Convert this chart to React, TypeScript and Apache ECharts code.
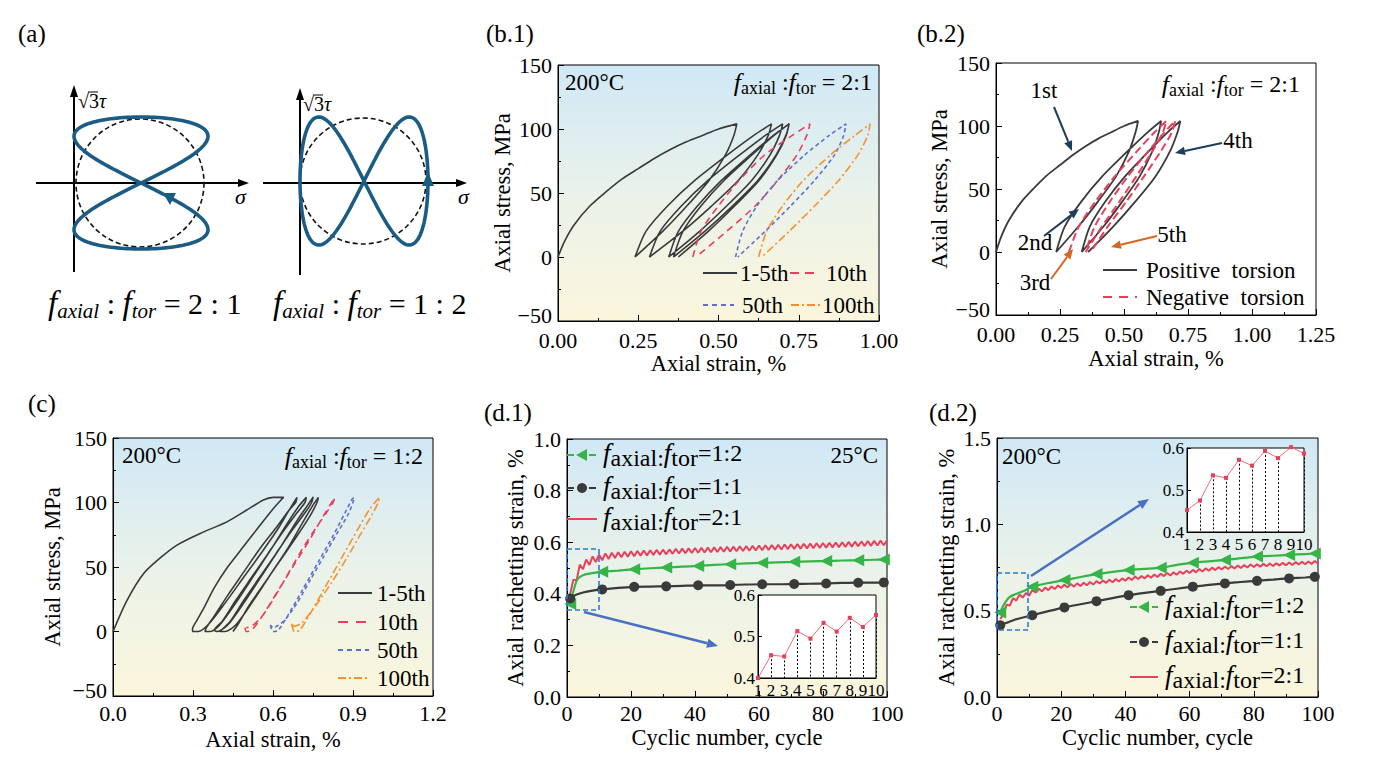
import React, { useEffect, useRef } from "react";
import * as echarts from "echarts";

const SERIF = "'Liberation Serif','Times New Roman',serif";

// ---------------- (b.1) 200°C, f_axial:f_tor = 2:1 ----------------
const b1Cycles1to5: number[][] = [
  [0, 0], [0.02, 12], [0.05, 25], [0.1, 40], [0.15, 51], [0.2, 61], [0.25, 69], [0.3, 77], [0.35, 84], [0.4, 90], [0.45, 95], [0.5, 100], [0.557, 104],
  [0.548, 95], [0.522, 80], [0.471, 60], [0.402, 40], [0.326, 20], [0.24, 0],
  [0.274, 20], [0.342, 40], [0.427, 60], [0.529, 80], [0.61, 95], [0.665, 104],
  [0.655, 95], [0.623, 80], [0.562, 60], [0.479, 40], [0.388, 20], [0.285, 0],
  [0.318, 20], [0.385, 40], [0.468, 60], [0.567, 80], [0.646, 95], [0.7, 104],
  [0.69, 95], [0.661, 80], [0.604, 60], [0.526, 40], [0.441, 20], [0.345, 0],
  [0.375, 20], [0.435, 40], [0.51, 60], [0.6, 80], [0.671, 95], [0.72, 104],
  [0.71, 95], [0.68, 80], [0.623, 60], [0.544, 40], [0.457, 20], [0.36, 0],
  [0.389, 20], [0.446, 40], [0.518, 60], [0.605, 80], [0.673, 95], [0.72, 104],
  [0.711, 95], [0.682, 80], [0.627, 60], [0.551, 40], [0.468, 20], [0.375, 0],
];
const b1Cycle10: number[][] = [
  [0.42, 0], [0.445, 20], [0.5, 40], [0.565, 60], [0.645, 80], [0.73, 95], [0.785, 104],
  [0.775, 95], [0.745, 80], [0.685, 60], [0.615, 40], [0.525, 20], [0.43, 0],
];
const b1Cycle50: number[][] = [
  [0.553, 0], [0.575, 20], [0.62, 40], [0.685, 60], [0.77, 80], [0.845, 95], [0.897, 104],
  [0.89, 95], [0.862, 80], [0.8, 60], [0.725, 40], [0.645, 20], [0.56, 0],
];
const b1Cycle100: number[][] = [
  [0.625, 0], [0.65, 20], [0.7, 40], [0.765, 60], [0.85, 80], [0.925, 95], [0.972, 104],
  [0.965, 95], [0.935, 80], [0.875, 60], [0.8, 40], [0.72, 20], [0.635, 0],
];

// ---------------- (b.2) positive / negative torsion ----------------
const b2Positive: number[][] = [
  [0, 0], [0.02, 12], [0.05, 25], [0.1, 40], [0.15, 51], [0.2, 61], [0.25, 69], [0.3, 77], [0.35, 84], [0.4, 90], [0.45, 95], [0.5, 100], [0.555, 104],
  [0.545, 95], [0.52, 80], [0.469, 60], [0.398, 40], [0.321, 20], [0.235, 0],
  [0.268, 20], [0.333, 40], [0.415, 60], [0.514, 80], [0.592, 95], [0.645, 104],
  [0.636, 95], [0.611, 80], [0.561, 60], [0.493, 40], [0.419, 20], [0.335, 0],
  [0.366, 20], [0.427, 40], [0.504, 60], [0.597, 80], [0.67, 95], [0.72, 104],
  [0.709, 95], [0.68, 80], [0.623, 60], [0.544, 40], [0.457, 20], [0.36, 0],
];
const b2Negative: number[][] = [
  [0.285, 0], [0.323, 20], [0.388, 40], [0.464, 60], [0.551, 80], [0.619, 95], [0.665, 104],
  [0.652, 95], [0.611, 80], [0.548, 60], [0.482, 40], [0.413, 20], [0.35, 0],
  [0.385, 20], [0.445, 40], [0.515, 60], [0.595, 80], [0.658, 95], [0.7, 104],
  [0.687, 95], [0.644, 80], [0.578, 60], [0.509, 40], [0.436, 20], [0.37, 0],
];

// ---------------- (c) 200°C, f_axial:f_tor = 1:2 ----------------
const cCycles1to5: number[][] = [
  [0, 0], [0.052, 24], [0.115, 45], [0.177, 57], [0.24, 67], [0.327, 76], [0.427, 85], [0.5, 94], [0.564, 102], [0.6, 104], [0.64, 104],
  [0.63, 102], [0.6, 95], [0.55, 82], [0.49, 66], [0.43, 50], [0.38, 34], [0.34, 18], [0.31, 7], [0.298, 2], [0.3, 0], [0.32, 0],
  [0.36, 6], [0.42, 22], [0.49, 42], [0.56, 62], [0.62, 80], [0.66, 94], [0.69, 104],
  [0.685, 100], [0.66, 94], [0.61, 80], [0.55, 64], [0.49, 46], [0.43, 28], [0.38, 12], [0.35, 3], [0.345, 0], [0.365, 0],
  [0.4, 5], [0.46, 22], [0.53, 44], [0.6, 66], [0.66, 86], [0.7, 98], [0.725, 104],
  [0.72, 100], [0.69, 92], [0.64, 78], [0.58, 60], [0.52, 42], [0.46, 24], [0.41, 8], [0.38, 1], [0.39, 0],
  [0.43, 5], [0.49, 22], [0.56, 44], [0.63, 66], [0.69, 86], [0.73, 98], [0.75, 104],
  [0.745, 100], [0.72, 92], [0.67, 78], [0.61, 60], [0.55, 42], [0.49, 24], [0.44, 8], [0.4, 0], [0.42, 0],
  [0.46, 5], [0.52, 22], [0.59, 44], [0.66, 66], [0.71, 84], [0.75, 98], [0.77, 104],
  [0.765, 100], [0.74, 90], [0.69, 74], [0.63, 56], [0.57, 38], [0.51, 20], [0.47, 6], [0.45, 0],
];
const cCycle10: number[][] = [
  [0.495, 3], [0.5, 0], [0.52, 1], [0.56, 12], [0.62, 32], [0.68, 52], [0.74, 72], [0.79, 90], [0.82, 100], [0.832, 104],
  [0.825, 100], [0.8, 92], [0.76, 80], [0.71, 64], [0.66, 46], [0.61, 28], [0.56, 12], [0.52, 4], [0.5, 3],
];
const cCycle50: number[][] = [
  [0.59, 5], [0.6, 0], [0.62, 1], [0.66, 14], [0.71, 32], [0.77, 54], [0.83, 76], [0.87, 92], [0.895, 102], [0.903, 104],
  [0.9, 100], [0.88, 90], [0.84, 76], [0.79, 58], [0.74, 40], [0.69, 22], [0.64, 8], [0.6, 3], [0.59, 5],
];
const cCycle100: number[][] = [
  [0.67, 6], [0.68, 0], [0.7, 1], [0.74, 14], [0.8, 36], [0.86, 58], [0.92, 80], [0.96, 94], [0.99, 102], [1.0, 104],
  [0.995, 100], [0.97, 90], [0.93, 76], [0.88, 58], [0.82, 38], [0.76, 20], [0.71, 7], [0.68, 4], [0.67, 6],
];

// ---------------- (d.1) 25°C ratchetting strain ----------------
const d1Ratio12: number[][] = [
  [1, 0.36], [2, 0.41], [3, 0.45], [4, 0.465], [5, 0.472], [7, 0.478], [9, 0.482], [11, 0.485], [16, 0.49], [21, 0.495],
  [26, 0.499], [31, 0.502], [36, 0.505], [41, 0.508], [46, 0.512], [51, 0.515], [56, 0.518], [61, 0.52], [66, 0.522],
  [71, 0.524], [76, 0.526], [81, 0.527], [86, 0.529], [91, 0.53], [96, 0.532], [99, 0.533], [100, 0.534],
];
const d1Ratio11: number[][] = [
  [1, 0.382], [2, 0.39], [3, 0.397], [5, 0.405], [8, 0.412], [11, 0.417], [16, 0.423], [21, 0.427], [26, 0.428],
  [31, 0.429], [36, 0.431], [41, 0.433], [46, 0.433], [51, 0.434], [56, 0.436], [61, 0.437], [66, 0.437], [71, 0.438],
  [76, 0.439], [81, 0.44], [86, 0.442], [91, 0.443], [96, 0.443], [99, 0.444], [100, 0.444],
];
const d1Ratio21: number[] = [
  0.400, 0.455, 0.452, 0.513, 0.495, 0.533, 0.512, 0.545, 0.523, 0.552,
  0.530, 0.556, 0.535, 0.559, 0.539, 0.561, 0.542, 0.563, 0.544, 0.565,
  0.546, 0.566, 0.548, 0.568, 0.549, 0.569, 0.551, 0.570, 0.552, 0.571,
  0.553, 0.572, 0.555, 0.574, 0.556, 0.575, 0.557, 0.576, 0.558, 0.577,
  0.559, 0.578, 0.560, 0.579, 0.561, 0.580, 0.562, 0.581, 0.563, 0.582,
  0.564, 0.583, 0.565, 0.584, 0.566, 0.585, 0.567, 0.586, 0.568, 0.587,
  0.569, 0.588, 0.570, 0.589, 0.571, 0.590, 0.572, 0.591, 0.573, 0.592,
  0.574, 0.593, 0.575, 0.594, 0.576, 0.595, 0.577, 0.596, 0.578, 0.597,
  0.579, 0.598, 0.580, 0.599, 0.581, 0.600, 0.582, 0.601, 0.583, 0.602,
  0.584, 0.603, 0.585, 0.604, 0.586, 0.605, 0.587, 0.606, 0.588, 0.607,
];

// ---------------- (d.2) 200°C ratchetting strain ----------------
const d2Ratio12: number[][] = [
  [1, 0.49], [2, 0.53], [3, 0.56], [4, 0.58], [5, 0.59], [7, 0.605], [9, 0.62], [11, 0.639], [16, 0.66], [21, 0.677],
  [26, 0.695], [31, 0.712], [36, 0.725], [41, 0.735], [46, 0.742], [51, 0.749], [56, 0.765], [61, 0.778], [66, 0.786],
  [71, 0.794], [76, 0.804], [81, 0.813], [86, 0.818], [91, 0.823], [96, 0.828], [99, 0.831], [100, 0.832],
];
const d2Ratio11: number[][] = [
  [1, 0.416], [3, 0.43], [6, 0.45], [11, 0.474], [16, 0.497], [21, 0.519], [26, 0.537], [31, 0.555], [36, 0.573],
  [41, 0.59], [46, 0.603], [51, 0.615], [56, 0.627], [61, 0.639], [66, 0.649], [71, 0.658], [76, 0.666], [81, 0.673],
  [86, 0.68], [91, 0.687], [96, 0.692], [99, 0.696], [100, 0.697],
];
const d2Ratio21: number[] = [
  0.452, 0.475, 0.535, 0.529, 0.572, 0.558, 0.593, 0.576, 0.602, 0.587,
  0.620, 0.605, 0.627, 0.612, 0.634, 0.619, 0.640, 0.625, 0.646, 0.631,
  0.650, 0.635, 0.654, 0.639, 0.658, 0.643, 0.662, 0.647, 0.666, 0.651,
  0.671, 0.657, 0.675, 0.661, 0.679, 0.665, 0.683, 0.669, 0.687, 0.673,
  0.692, 0.678, 0.697, 0.683, 0.701, 0.687, 0.705, 0.691, 0.709, 0.695,
  0.714, 0.700, 0.718, 0.704, 0.722, 0.708, 0.727, 0.713, 0.732, 0.718,
  0.736, 0.722, 0.741, 0.727, 0.745, 0.731, 0.749, 0.735, 0.752, 0.738,
  0.755, 0.741, 0.758, 0.744, 0.761, 0.747, 0.764, 0.750, 0.767, 0.753,
  0.769, 0.755, 0.771, 0.757, 0.773, 0.759, 0.775, 0.761, 0.777, 0.763,
  0.779, 0.765, 0.781, 0.767, 0.783, 0.769, 0.785, 0.771, 0.787, 0.773,
];
const markerCycles = [1, 11, 21, 31, 41, 51, 61, 71, 81, 91, 99];

// ---------------- colours ----------------
const C_BLACK = "#3a3a3a";
const C_RED = "#e8405a";
const C_BLUE = "#5f6fcc";
const C_ORANGE = "#f5922f";
const C_GREEN = "#35b447";
const C_NAVY = "#1c3d5e";
const C_ARROW_OR = "#d9661f";
const C_CURVE = "#1b5c85";

const bg = () =>
  new echarts.graphic.LinearGradient(0, 0, 0, 1, [
    { offset: 0, color: "#d0e8f6" },
    { offset: 0.5, color: "#eaf2ea" },
    { offset: 1, color: "#fbf6dc" },
  ]);

const minus = (v: number, d: number) => (v < 0 ? "\u2212" + Math.abs(v).toFixed(d) : v.toFixed(d));

function axis(gridIndex: number, min: number, max: number, interval: number, dec: number, name: string, nameGap: number, margin: number, liftMin = false) {
  return {
    type: "value",
    gridIndex,
    min,
    max,
    interval,
    name,
    nameLocation: "middle",
    nameGap,
    nameTextStyle: { fontFamily: SERIF, fontSize: 22.5, color: "#000" },
    axisLine: { show: true, onZero: false, lineStyle: { color: "#000", width: 1 } },
    axisTick: { show: true, inside: true, length: 6, lineStyle: { color: "#000", width: 1 } },
    minorTick: { show: true, splitNumber: 2, length: 3, lineStyle: { color: "#000", width: 1 } },
    splitLine: { show: false },
    axisLabel: {
      fontFamily: SERIF,
      fontSize: 22,
      lineHeight: 15,
      color: "#000",
      margin,
      showMinLabel: true,
      showMaxLabel: true,
      formatter: (v: number) => (liftMin && v === min ? `{lo|${minus(v, dec)}}` : minus(v, dec)),
      rich: {
        lo: { fontFamily: SERIF, fontSize: 22, color: "#000", padding: [0, 0, 12, 0] },
      },
    },
  };
}

function insetAxis(gridIndex: number, min: number, max: number, interval: number, dec: number, margin: number, ticks: boolean) {
  return {
    type: "value",
    gridIndex,
    min,
    max,
    interval,
    axisLine: { show: true, onZero: false, lineStyle: { color: "#000", width: 1 } },
    axisTick: { show: ticks, inside: true, length: 4, lineStyle: { color: "#000" } },
    minorTick: { show: false },
    splitLine: { show: false },
    axisLabel: {
      fontFamily: SERIF,
      fontSize: 17,
      lineHeight: 12,
      color: "#000",
      margin,
      showMinLabel: true,
      showMaxLabel: true,
      formatter: (v: number) => (dec === 0 ? String(v) : v.toFixed(dec)),
    },
  };
}

function loop(name: string, data: number[][], xi: number, color: string, dash: any, width = 1.6) {
  return {
    name,
    type: "line",
    xAxisIndex: xi,
    yAxisIndex: xi,
    data,
    showSymbol: false,
    smooth: 0.25,
    lineStyle: { color, width, type: dash },
    z: 3,
  };
}

function markedLine(data: number[][], xi: number, color: string, symbol: string, rotate: number, size: number) {
  return {
    type: "line",
    xAxisIndex: xi,
    yAxisIndex: xi,
    data: data.map(([x, y]) => (markerCycles.includes(x) ? { value: [x, y] } : { value: [x, y], symbol: "none" })),
    showSymbol: true,
    symbol,
    symbolRotate: rotate,
    symbolSize: size,
    itemStyle: { color },
    lineStyle: { color, width: 2.2 },
    smooth: 0.2,
    z: 4,
  };
}

function zigzag(vals: number[], xi: number) {
  return {
    type: "line",
    xAxisIndex: xi,
    yAxisIndex: xi,
    data: vals.map((v, i) => [i + 1, v]),
    showSymbol: false,
    lineStyle: { color: C_RED, width: 2 },
    z: 3,
  };
}

function inset(vals: number[], xi: number) {
  const first = vals.slice(0, 10);
  return {
    type: "line",
    xAxisIndex: xi,
    yAxisIndex: xi,
    data: first.map((v, i) => [i + 1, v]),
    showSymbol: true,
    symbol: "rect",
    symbolSize: 4,
    itemStyle: { color: "#e8405a" },
    lineStyle: { color: "#f06a7a", width: 1 },
    clip: false,
    z: 6,
    markLine: {
      silent: true,
      symbol: ["none", "none"],
      label: { show: false },
      lineStyle: { color: "#000", type: [2, 2], width: 1 },
      data: first.slice(1).map((v, i) => [{ coord: [i + 2, v] }, { coord: [i + 2, 0.4] }]),
    },
  };
}

// ---------------- graphic helpers ----------------
function txt(x: number, y: number, text: string, size = 22, align = "left", extra: any = {}) {
  return {
    type: "text",
    x,
    y,
    z: 100,
    style: { text, fontFamily: SERIF, fontSize: size, fill: "#000", align, verticalAlign: "middle", ...extra },
  };
}
function hline(x1: number, x2: number, y: number, color: string, dash: any, w = 2) {
  return { type: "line", z: 100, shape: { x1, y1: y, x2, y2: y }, style: { stroke: color, lineWidth: w, lineDash: dash } };
}
function arrow(x1: number, y1: number, x2: number, y2: number, color: string, w = 2, head = 10) {
  const a = Math.atan2(y2 - y1, x2 - x1);
  const bx = x2 - head * Math.cos(a);
  const by = y2 - head * Math.sin(a);
  const px = Math.sin(a) * head * 0.42;
  const py = -Math.cos(a) * head * 0.42;
  return [
    { type: "line", z: 100, shape: { x1, y1, x2: bx, y2: by }, style: { stroke: color, lineWidth: w } },
    { type: "polygon", z: 100, shape: { points: [[x2, y2], [bx + px, by + py], [bx - px, by - py]] }, style: { fill: color } },
  ];
}
function curve(fx: (t: number) => number, fy: (t: number) => number) {
  const p: number[][] = [];
  for (let i = 0; i <= 240; i++) {
    const t = (i / 240) * Math.PI * 2;
    p.push([fx(t), fy(t)]);
  }
  return { type: "polyline", z: 50, shape: { points: p }, style: { stroke: C_CURVE, lineWidth: 3.6, fill: null } };
}

const ratioRich = (ratio: string, big = false) => ({
  text: big ? `{i|f}{s|axial}{n| : }{i|f}{s|tor}{n| = ${ratio}}` : `{i|f}{s|axial}{n| :}{i|f}{s|tor}{n| = ${ratio}}`,
  rich: big
    ? {
        i: { fontFamily: SERIF, fontStyle: "italic", fontSize: 33 },
        s: { fontFamily: SERIF, fontStyle: "italic", fontSize: 21, padding: [16, 0, 0, 0] },
        n: { fontFamily: SERIF, fontSize: 30 },
      }
    : {
        i: { fontFamily: SERIF, fontStyle: "italic", fontSize: 26 },
        s: { fontFamily: SERIF, fontSize: 18, padding: [12, 0, 0, 0] },
        n: { fontFamily: SERIF, fontSize: 24 },
      },
});
const legendRich = (ratio: string) => ({
  text: `{i|f}{a|axial:}{i|f}{a|tor}{n|=${ratio}}`,
  rich: {
    i: { fontFamily: SERIF, fontStyle: "italic", fontSize: 27 },
    a: { fontFamily: SERIF, fontSize: 24, padding: [9, 0, 0, 0] },
    n: { fontFamily: SERIF, fontSize: 24 },
  },
});
function richText(x: number, y: number, r: any, align = "left") {
  return { type: "text", x, y, z: 100, style: { ...r, fill: "#000", align, verticalAlign: "middle" } };
}

function buildGraphic() {
  const g: any[] = [];
  // panel labels
  g.push(txt(18, 33, "(a)", 25));
  g.push(txt(486, 33, "(b.1)", 25));
  g.push(txt(917, 33, "(b.2)", 25));
  g.push(txt(28, 403, "(c)", 25));
  g.push(txt(484, 412, "(d.1)", 25));
  g.push(txt(929, 412, "(d.2)", 25));

  // ---- (a) schematic load paths ----
  g.push({ type: "line", z: 40, shape: { x1: 74, y1: 272, x2: 74, y2: 94 }, style: { stroke: "#000", lineWidth: 2 } });
  g.push({ type: "polygon", z: 40, shape: { points: [[74, 85], [70, 97], [78, 97]] }, style: { fill: "#000" } });
  g.push({ type: "line", z: 40, shape: { x1: 36, y1: 183, x2: 240, y2: 183 }, style: { stroke: "#000", lineWidth: 2 } });
  g.push({ type: "polygon", z: 40, shape: { points: [[249, 183], [238, 179], [238, 187]] }, style: { fill: "#000" } });
  g.push({ type: "circle", z: 41, shape: { cx: 140, cy: 183, r: 64 }, style: { stroke: "#111", lineWidth: 1.6, lineDash: [5, 3], fill: null } });
  g.push(curve((t) => 141 + 67 * Math.sin(2 * t), (t) => 183 - 66 * Math.cos(t)));
  g.push({ type: "polygon", z: 60, shape: { points: [[163, 193], [176, 193], [170, 205]] }, style: { fill: C_CURVE } });
  g.push(richText(78, 101, { text: "{n|\u221A3}{i|\u03C4}", rich: { n: { fontFamily: SERIF, fontSize: 20 }, i: { fontFamily: SERIF, fontSize: 20, fontStyle: "italic" } } }));
  g.push({ type: "line", z: 100, shape: { x1: 88, y1: 92, x2: 98, y2: 92 }, style: { stroke: "#000", lineWidth: 1 } });
  g.push(txt(235, 196, "\u03C3", 22, "left", { fontStyle: "italic" }));

  g.push({ type: "line", z: 40, shape: { x1: 300, y1: 275, x2: 300, y2: 97 }, style: { stroke: "#000", lineWidth: 2 } });
  g.push({ type: "polygon", z: 40, shape: { points: [[300, 88], [296, 100], [304, 100]] }, style: { fill: "#000" } });
  g.push({ type: "line", z: 40, shape: { x1: 263, y1: 183, x2: 458, y2: 183 }, style: { stroke: "#000", lineWidth: 2 } });
  g.push({ type: "polygon", z: 40, shape: { points: [[467, 183], [456, 179], [456, 187]] }, style: { fill: "#000" } });
  g.push({ type: "circle", z: 41, shape: { cx: 363, cy: 181, r: 63 }, style: { stroke: "#111", lineWidth: 1.6, lineDash: [5, 3], fill: null } });
  g.push(curve((t) => 364 + 64 * Math.cos(t), (t) => 181 - 64 * Math.sin(2 * t)));
  g.push({ type: "polygon", z: 60, shape: { points: [[428, 172], [422, 186], [434, 186]] }, style: { fill: C_CURVE } });
  g.push(richText(303, 104, { text: "{n|\u221A3}{i|\u03C4}", rich: { n: { fontFamily: SERIF, fontSize: 20 }, i: { fontFamily: SERIF, fontSize: 20, fontStyle: "italic" } } }));
  g.push({ type: "line", z: 100, shape: { x1: 313, y1: 95, x2: 323, y2: 95 }, style: { stroke: "#000", lineWidth: 1 } });
  g.push(txt(458, 196, "\u03C3", 22, "left", { fontStyle: "italic" }));

  g.push(richText(48, 303, ratioRich("2 : 1", true)));
  g.push(richText(273, 303, ratioRich("1 : 2", true)));

  // ---- (b.1) ----
  g.push(txt(565, 82, "200\u00B0C", 23));
  g.push(richText(872, 82, ratioRich("2:1"), "right"));
  g.push(hline(703, 737, 273, C_BLACK, null));
  g.push(txt(740, 273, "1-5th", 23));
  g.push(hline(790, 818, 273, C_RED, [9, 6]));
  g.push(txt(826, 273, "10th", 23));
  g.push(hline(703, 734, 305, C_BLUE, [5, 4]));
  g.push(txt(742, 305, "50th", 23));
  g.push(hline(791, 820, 305, C_ORANGE, [8, 3, 2, 3]));
  g.push(txt(822, 305, "100th", 23));

  // ---- (b.2) ----
  g.push(richText(1300, 84, ratioRich("2:1"), "right"));
  g.push(txt(1044, 90, "1st", 23, "center"));
  g.push(...arrow(1054, 107, 1072, 151, C_NAVY));
  g.push(txt(1238, 140, "4th", 23, "center"));
  g.push(...arrow(1222, 143, 1175, 153, C_NAVY));
  g.push(txt(1035, 242, "2nd", 23, "center"));
  g.push(...arrow(1044, 236, 1079, 209, C_NAVY));
  g.push(txt(1172, 234, "5th", 23, "center"));
  g.push(...arrow(1157, 236, 1111, 247, C_ARROW_OR));
  g.push(txt(1035, 282, "3rd", 23, "center"));
  g.push(...arrow(1051, 279, 1073, 249, C_ARROW_OR));
  g.push(hline(1103, 1137, 270, C_BLACK, null, 2.2));
  g.push(txt(1146, 270, "Positive  torsion", 23));
  g.push(hline(1103, 1137, 297, C_RED, [9, 7], 2.2));
  g.push(txt(1146, 297, "Negative  torsion", 23));

  // ---- (c) ----
  g.push(txt(122, 455, "200\u00B0C", 23));
  g.push(richText(423, 456, ratioRich("1:2"), "right"));
  g.push(hline(338, 372, 593, C_BLACK, null));
  g.push(txt(377, 593, "1-5th", 23));
  g.push(hline(338, 372, 622, C_RED, [10, 8]));
  g.push(txt(377, 622, "10th", 23));
  g.push(hline(338, 369, 650, C_BLUE, [5, 4]));
  g.push(txt(377, 650, "50th", 23));
  g.push(hline(338, 368, 678, C_ORANGE, [8, 3, 2, 3]));
  g.push(txt(377, 678, "100th", 23));

  // ---- (d.1) ----
  g.push(txt(878, 455, "25\u00B0C", 23, "right"));
  g.push(hline(567, 597, 455, C_GREEN, [7, 4], 2));
  g.push({ type: "polygon", z: 101, shape: { points: [[576, 455], [587, 449], [587, 461]] }, style: { fill: C_GREEN } });
  g.push(richText(603, 453, legendRich("1:2")));
  g.push(hline(567, 597, 488, C_BLACK, [7, 4], 2));
  g.push({ type: "circle", z: 101, shape: { cx: 582, cy: 488, r: 5 }, style: { fill: C_BLACK } });
  g.push(richText(603, 486, legendRich("1:1")));
  g.push(hline(567, 597, 519, C_RED, null, 2));
  g.push(richText(603, 517, legendRich("2:1")));
  g.push({ type: "rect", z: 100, shape: { x: 567, y: 549, width: 32, height: 61 }, style: { stroke: "#2b7bd6", lineWidth: 1.6, lineDash: [5, 3], fill: null } });
  g.push(...arrow(584, 612, 718, 646, "#4a70c4", 2.5, 11));

  // ---- (d.2) ----
  g.push(txt(1002, 456, "200\u00B0C", 23));
  g.push(hline(1130, 1158, 607, C_GREEN, [7, 4], 2));
  g.push({ type: "polygon", z: 101, shape: { points: [[1138, 607], [1149, 601], [1149, 613]] }, style: { fill: C_GREEN } });
  g.push(richText(1165, 605, legendRich("1:2")));
  g.push(hline(1130, 1158, 642, C_BLACK, [7, 4], 2));
  g.push({ type: "circle", z: 101, shape: { cx: 1144, cy: 642, r: 5 }, style: { fill: C_BLACK } });
  g.push(richText(1165, 640, legendRich("1:1")));
  g.push(hline(1130, 1158, 677, C_RED, null, 2));
  g.push(richText(1165, 675, legendRich("2:1")));
  g.push({ type: "rect", z: 100, shape: { x: 997, y: 573, width: 31, height: 57 }, style: { stroke: "#2b7bd6", lineWidth: 1.6, lineDash: [5, 3], fill: null } });
  g.push(...arrow(1031, 576, 1149, 499, "#4a70c4", 2.5, 11));
  return g;
}

export default function App() {
  const ref = useRef<HTMLDivElement>(null);
  useEffect(() => {
    if (!ref.current) return;
    const chart = echarts.init(ref.current, undefined, { renderer: "svg" });
    const frame = { show: true, borderColor: "#000", borderWidth: 1 };
    const option: any = {
      animation: false,
      backgroundColor: "#fff",
      textStyle: { fontFamily: SERIF },
      grid: [
        { left: 558, top: 65, width: 321, height: 256, ...frame, backgroundColor: bg() },
        { left: 996, top: 63, width: 320, height: 252, ...frame, backgroundColor: "#fff" },
        { left: 113, top: 438, width: 320, height: 258, ...frame, backgroundColor: bg() },
        { left: 567, top: 439, width: 320, height: 258, ...frame, backgroundColor: bg() },
        { left: 997, top: 438, width: 321, height: 259, ...frame, backgroundColor: bg() },
        { left: 758, top: 595, width: 118, height: 83, ...frame, backgroundColor: "#fff", z: 5 },
        { left: 1187, top: 448, width: 117, height: 84, ...frame, backgroundColor: "#fff", z: 5 },
      ],
      xAxis: [
        axis(0, 0, 1, 0.25, 2, "Axial strain, %", 31, 12),
        axis(1, 0, 1.25, 0.25, 2, "Axial strain, %", 32, 12),
        axis(2, 0, 1.2, 0.3, 1, "Axial strain, %", 32, 10),
        axis(3, 0, 100, 20, 0, "Cyclic number, cycle", 29, 9),
        axis(4, 0, 100, 20, 0, "Cyclic number, cycle", 29, 9),
        { ...insetAxis(5, 1, 10, 1, 0, 6, false), z: 6 },
        { ...insetAxis(6, 1, 10, 1, 0, 6, false), z: 6 },
      ],
      yAxis: [
        axis(0, -50, 150, 50, 0, "Axial stress, MPa", 40, 6, true),
        axis(1, -50, 150, 50, 0, "Axial stress, MPa", 45, 6, true),
        axis(2, -50, 150, 50, 0, "Axial stress, MPa", 49, 6, true),
        axis(3, 0, 1, 0.2, 1, "Axial ratchetting strain, %", 40, 6),
        axis(4, 0, 1.5, 0.5, 1, "Axial ratchetting strain, %", 39, 6),
        { ...insetAxis(5, 0.4, 0.6, 0.1, 1, 3, true), z: 6 },
        { ...insetAxis(6, 0.4, 0.6, 0.1, 1, 3, true), z: 6 },
      ],
      series: [
        loop("1-5th", b1Cycles1to5, 0, C_BLACK, "solid"),
        loop("10th", b1Cycle10, 0, C_RED, [7, 5]),
        loop("50th", b1Cycle50, 0, C_BLUE, [4, 3]),
        loop("100th", b1Cycle100, 0, C_ORANGE, [8, 3, 2, 3]),
        loop("Positive torsion", b2Positive, 1, C_BLACK, "solid", 1.8),
        loop("Negative torsion", b2Negative, 1, C_RED, [8, 4], 2),
        loop("1-5th", cCycles1to5, 2, C_BLACK, "solid"),
        loop("10th", cCycle10, 2, C_RED, [7, 5]),
        loop("50th", cCycle50, 2, C_BLUE, [4, 3]),
        loop("100th", cCycle100, 2, C_ORANGE, [8, 3, 2, 3]),
        zigzag(d1Ratio21, 3),
        markedLine(d1Ratio12, 3, C_GREEN, "triangle", 90, 12),
        markedLine(d1Ratio11, 3, C_BLACK, "circle", 0, 10),
        zigzag(d2Ratio21, 4),
        markedLine(d2Ratio12, 4, C_GREEN, "triangle", 90, 12),
        markedLine(d2Ratio11, 4, C_BLACK, "circle", 0, 10),
        inset(d1Ratio21, 5),
        inset(d2Ratio21, 6),
      ],
      graphic: buildGraphic(),
    };
    chart.setOption(option);
    return () => chart.dispose();
  }, []);
  return (
    <div
      ref={ref}
      style={{ position: "fixed", left: 0, top: 0, width: 1385, height: 758, background: "#fff" }}
    />
  );
}
